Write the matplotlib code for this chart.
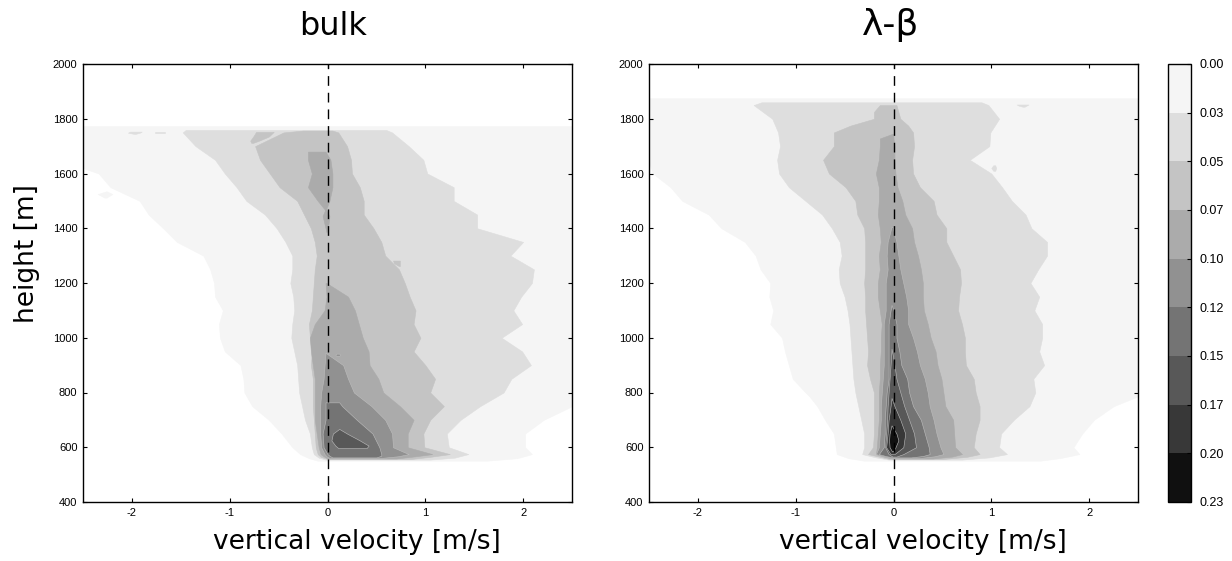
import matplotlib
matplotlib.use('Agg')
import matplotlib.pyplot as plt
from matplotlib.cm import ScalarMappable
from matplotlib.colors import BoundaryNorm, ListedColormap

plt.rcParams['axes.unicode_minus'] = False

levels = [0.0, 0.025, 0.05, 0.075, 0.1, 0.125, 0.15, 0.175, 0.2, 0.225]
level_labels = ['0.00', '0.03', '0.05', '0.07', '0.10', '0.12', '0.15', '0.17', '0.20', '0.23']
band_colors = ['#f5f5f5', '#dedede', '#c4c4c4', '#ababab', '#919191', '#747474', '#585858', '#383838', '#101010']
x_ticks = [-2, -1, 0, 1, 2]
y_ticks = [400, 600, 800, 1000, 1200, 1400, 1600, 1800, 2000]

# contour outlines: height [m], left and right velocity [m/s]
# one (height, left, right, band) entry per closed region

# bulk
b1_h = [1773, 1620, 1600, 1550, 1500, 1450, 1400, 1350, 1300, 1250, 1200, 1150, 1100, 1050, 1000, 950, 900, 850, 800, 750, 700, 650, 600, 575, 560, 551]
b1_l = [-2.5, -2.5, -2.34, -2.22, -1.92, -1.83, -1.68, -1.54, -1.27, -1.20, -1.16, -1.15, -1.07, -1.11, -1.10, -1.05, -0.89, -0.86, -0.85, -0.77, -0.60, -0.47, -0.36, -0.28, -0.19, -0.10]
b1_r = [2.5] * 20 + [2.21, 2.02, 2.02, 2.09, 1.94, 1.63]

b1a_h = [1535, 1525, 1512]
b1a_l = [-2.26, -2.35, -2.28]
b1a_r = [-2.26, -2.20, -2.26]

b2_h = [1759, 1750, 1700, 1650, 1600, 1550, 1500, 1450, 1400, 1350, 1300, 1250, 1200, 1150, 1100, 1050, 1000, 950, 900, 850, 800, 750, 700, 650, 600, 575, 562, 555]
b2_l = [-1.45, -1.48, -1.35, -1.15, -1.05, -0.93, -0.83, -0.64, -0.52, -0.43, -0.36, -0.36, -0.38, -0.35, -0.34, -0.36, -0.37, -0.34, -0.31, -0.30, -0.29, -0.26, -0.23, -0.18, -0.16, -0.14, -0.09, -0.02]
b2_r = [0.60, 0.66, 0.83, 0.98, 1.02, 1.29, 1.29, 1.53, 1.53, 2.00, 1.87, 2.11, 2.09, 1.98, 1.90, 1.99, 1.78, 1.99, 2.08, 1.88, 1.80, 1.56, 1.36, 1.22, 1.24, 1.44, 1.30, 1.05]

b2a_h = [1753, 1749, 1745]
b2a_l = [-2.02, -2.04, -1.98]
b2a_r = [-1.90, -1.92, -1.96]

b2b_h = [1752, 1748]
b2b_l = [-1.76, -1.76]
b2b_r = [-1.66, -1.66]

b3_h = [1757, 1750, 1700, 1650, 1600, 1550, 1500, 1450, 1400, 1350, 1300, 1250, 1200, 1150, 1100, 1050, 1000, 950, 900, 850, 800, 750, 700, 650, 600, 575, 565, 557]
b3_l = [-0.25, -0.45, -0.74, -0.69, -0.59, -0.49, -0.31, -0.24, -0.17, -0.13, -0.11, -0.13, -0.14, -0.15, -0.16, -0.19, -0.18, -0.16, -0.17, -0.15, -0.15, -0.15, -0.14, -0.13, -0.12, -0.10, -0.07, 0.0]
b3_r = [0.05, 0.11, 0.20, 0.24, 0.25, 0.33, 0.37, 0.37, 0.47, 0.55, 0.59, 0.73, 0.79, 0.84, 0.90, 0.88, 0.95, 0.88, 1.00, 1.10, 1.05, 1.19, 1.05, 0.98, 0.99, 1.25, 1.05, 0.85]

b3a_h = [1752, 1735, 1720, 1712]
b3a_l = [-0.73, -0.76, -0.79, -0.78]
b3a_r = [-0.55, -0.60, -0.70, -0.76]

b3b_h = [1282, 1272, 1262]
b3b_l = [0.67, 0.68, 0.73]
b3b_r = [0.74, 0.74, 0.74]

b4a_h = [1680, 1650, 1600, 1550, 1500, 1465]
b4a_l = [-0.20, -0.20, -0.16, -0.20, -0.10, -0.02]
b4a_r = [-0.02, 0.03, 0.05, 0.05, 0.02, -0.02]

b4b_h = [1470, 1445, 1415, 1385]
b4b_l = [-0.02, -0.05, -0.03, -0.01]
b4b_r = [-0.02, 0.02, 0.01, -0.01]

b4_h = [1200, 1150, 1100, 1050, 1000, 950, 900, 850, 800, 750, 700, 650, 600, 575, 567, 559]
b4_l = [-0.02, -0.01, -0.03, -0.13, -0.18, -0.17, -0.15, -0.13, -0.13, -0.13, -0.13, -0.11, -0.09, -0.07, -0.04, 0.0]
b4_r = [-0.01, 0.21, 0.28, 0.32, 0.36, 0.42, 0.43, 0.52, 0.57, 0.74, 0.88, 0.82, 0.82, 1.07, 0.90, 0.70]

b5_h = [945, 900, 850, 800, 750, 700, 650, 600, 575, 567, 561]
b5_l = [-0.02, -0.03, -0.04, -0.065, -0.075, -0.075, -0.075, -0.065, -0.03, -0.01, 0.02]
b5_r = [-0.02, 0.16, 0.21, 0.27, 0.45, 0.59, 0.66, 0.67, 0.83, 0.72, 0.55]

b5a_h = [942, 938, 934]
b5a_l = [0.09, 0.08, 0.09]
b5a_r = [0.12, 0.13, 0.12]

b6_h = [764, 750, 700, 650, 600, 575, 569, 563]
b6_l = [-0.02, -0.02, -0.02, -0.05, -0.04, 0.0, 0.02, 0.05]
b6_r = [0.12, 0.15, 0.30, 0.46, 0.53, 0.55, 0.55, 0.50]

b7_h = [667, 650, 625, 606, 597]
b7_l = [0.12, 0.055, 0.04, 0.08, 0.11]
b7_r = [0.12, 0.20, 0.33, 0.42, 0.40]

# lambda-beta
l1_h = [1875, 1640, 1600, 1550, 1500, 1450, 1400, 1350, 1300, 1250, 1200, 1150, 1100, 1050, 1000, 950, 900, 850, 800, 786, 750, 700, 650, 600, 575, 560, 551]
l1_l = [-2.5, -2.5, -2.46, -2.28, -2.16, -1.89, -1.76, -1.52, -1.41, -1.36, -1.26, -1.27, -1.23, -1.26, -1.14, -1.11, -1.07, -1.03, -0.90, -0.86, -0.78, -0.70, -0.61, -0.59, -0.58, -0.46, -0.30]
l1_r = [2.5] * 20 + [2.25, 2.05, 1.93, 1.84, 1.90, 1.70, 1.50]

l2_h = [1860, 1850, 1800, 1750, 1700, 1650, 1600, 1550, 1500, 1450, 1400, 1350, 1300, 1250, 1200, 1150, 1100, 1050, 1000, 950, 900, 850, 800, 750, 700, 650, 600, 575, 563, 555]
l2_l = [-1.35, -1.43, -1.24, -1.18, -1.16, -1.19, -1.17, -1.07, -0.90, -0.73, -0.63, -0.55, -0.53, -0.56, -0.55, -0.50, -0.47, -0.45, -0.44, -0.43, -0.42, -0.41, -0.39, -0.36, -0.33, -0.30, -0.30, -0.32, -0.18, -0.05]
l2_r = [0.90, 0.97, 1.08, 0.99, 0.98, 0.78, 1.00, 1.11, 1.21, 1.35, 1.41, 1.57, 1.57, 1.48, 1.40, 1.49, 1.44, 1.52, 1.52, 1.49, 1.54, 1.43, 1.45, 1.39, 1.23, 1.10, 1.08, 1.16, 0.98, 0.70]

l2a_h = [1852, 1848, 1844]
l2a_l = [1.26, 1.28, 1.32]
l2a_r = [1.38, 1.36, 1.34]

l2b_h = [1630, 1620, 1610]
l2b_l = [1.02, 1.00, 1.02]
l2b_r = [1.04, 1.05, 1.04]

l3_h = [1850, 1825, 1800, 1775, 1750, 1700, 1650, 1600, 1550, 1500, 1450, 1400, 1350, 1300, 1250, 1200, 1150, 1100, 1050, 1000, 950, 900, 850, 800, 750, 700, 650, 600, 575, 565, 557]
l3_l = [-0.14, -0.20, -0.20, -0.44, -0.61, -0.61, -0.72, -0.66, -0.49, -0.39, -0.37, -0.30, -0.29, -0.29, -0.29, -0.30, -0.29, -0.29, -0.28, -0.27, -0.26, -0.27, -0.24, -0.20, -0.20, -0.20, -0.20, -0.21, -0.26, -0.14, -0.04]
l3_r = [0.03, 0.05, 0.07, 0.15, 0.20, 0.21, 0.19, 0.20, 0.27, 0.41, 0.44, 0.54, 0.54, 0.61, 0.68, 0.69, 0.67, 0.66, 0.70, 0.73, 0.73, 0.74, 0.82, 0.84, 0.88, 0.88, 0.84, 0.82, 0.88, 0.75, 0.50]

l4_h = [1745, 1728, 1700, 1650, 1600, 1550, 1500, 1450, 1400, 1350, 1300, 1250, 1200, 1150, 1100, 1050, 1000, 950, 900, 850, 800, 750, 700, 650, 600, 575, 566, 559]
l4_l = [-0.01, -0.14, -0.14, -0.15, -0.18, -0.15, -0.15, -0.16, -0.14, -0.13, -0.15, -0.14, -0.16, -0.16, -0.14, -0.12, -0.13, -0.13, -0.14, -0.14, -0.15, -0.15, -0.15, -0.16, -0.17, -0.18, -0.10, -0.02]
l4_r = [0.0, 0.0, 0.01, 0.01, 0.02, 0.04, 0.09, 0.12, 0.19, 0.21, 0.25, 0.28, 0.30, 0.30, 0.31, 0.35, 0.38, 0.43, 0.45, 0.49, 0.51, 0.53, 0.61, 0.62, 0.63, 0.70, 0.60, 0.40]

l5_h = [1405, 1350, 1300, 1250, 1200, 1150, 1100, 1050, 1000, 950, 900, 850, 800, 750, 700, 650, 600, 575, 567, 561]
l5_l = [-0.02, -0.06, -0.07, -0.06, -0.08, -0.08, -0.08, -0.10, -0.10, -0.10, -0.10, -0.11, -0.12, -0.13, -0.13, -0.14, -0.15, -0.18, -0.09, -0.01]
l5_r = [-0.01, 0.03, 0.05, 0.07, 0.10, 0.13, 0.15, 0.15, 0.20, 0.24, 0.27, 0.32, 0.35, 0.37, 0.41, 0.44, 0.48, 0.51, 0.42, 0.28]

l6_h = [1120, 1100, 1050, 1000, 950, 900, 850, 800, 750, 700, 650, 600, 575, 568, 563]
l6_l = [-0.02, -0.03, -0.05, -0.05, -0.05, -0.05, -0.05, -0.07, -0.08, -0.09, -0.09, -0.10, -0.15, -0.08, -0.01]
l6_r = [-0.02, 0.0, 0.03, 0.03, 0.06, 0.08, 0.14, 0.16, 0.20, 0.28, 0.32, 0.36, 0.37, 0.30, 0.18]

l7_h = [960, 900, 850, 800, 750, 700, 650, 600, 575, 566]
l7_l = [-0.02, -0.03, -0.04, -0.05, -0.06, -0.065, -0.075, -0.085, -0.05, -0.01]
l7_r = [-0.02, 0.01, 0.03, 0.07, 0.11, 0.16, 0.21, 0.23, 0.10, 0.03]

l8_h = [780, 750, 700, 650, 600, 575]
l8_l = [-0.02, -0.03, -0.05, -0.06, -0.075, -0.03]
l8_r = [-0.02, 0.01, 0.07, 0.12, 0.10, 0.01]

l9_h = [680, 650, 625, 600, 585]
l9_l = [-0.02, -0.04, -0.045, -0.04, -0.015]
l9_r = [-0.02, 0.03, 0.05, 0.02, -0.005]

bulk_regions = [
    (b1_h, b1_l, b1_r, 0), (b1a_h, b1a_l, b1a_r, 0),
    (b2_h, b2_l, b2_r, 1), (b2a_h, b2a_l, b2a_r, 1), (b2b_h, b2b_l, b2b_r, 1),
    (b3_h, b3_l, b3_r, 2), (b3a_h, b3a_l, b3a_r, 2), (b3b_h, b3b_l, b3b_r, 2),
    (b4a_h, b4a_l, b4a_r, 3), (b4b_h, b4b_l, b4b_r, 3), (b4_h, b4_l, b4_r, 3),
    (b5_h, b5_l, b5_r, 4), (b5a_h, b5a_l, b5a_r, 4), (b6_h, b6_l, b6_r, 5), (b7_h, b7_l, b7_r, 6),
]
lambda_regions = [
    (l1_h, l1_l, l1_r, 0), (l2_h, l2_l, l2_r, 1), (l2a_h, l2a_l, l2a_r, 1), (l2b_h, l2b_l, l2b_r, 1),
    (l3_h, l3_l, l3_r, 2), (l4_h, l4_l, l4_r, 3), (l5_h, l5_l, l5_r, 4), (l6_h, l6_l, l6_r, 5),
    (l7_h, l7_l, l7_r, 6), (l8_h, l8_l, l8_r, 7), (l9_h, l9_l, l9_r, 8),
]

W, H = 1232, 561
fig = plt.figure(figsize=(W / 100, H / 100), dpi=100)


def px_axes(x0, x1, y0, y1):
    return fig.add_axes([x0 / W, 1 - y1 / H, (x1 - x0) / W, (y1 - y0) / H])


def draw_panel(ax, regions, title, title_x, title_size):
    for heights, left, right, band in regions:
        # the darker bands have a pale rim in the reference
        edge = '#bdbdbd' if band >= 4 else band_colors[band]
        ax.fill_betweenx(heights, left, right, facecolor=band_colors[band], edgecolor=edge, linewidth=0.4)
    ax.plot([0, 0], [y_ticks[0], y_ticks[-1]], color='black', lw=1.0, dashes=(7, 5))
    ax.set_xlim(-2.5, 2.5)
    ax.set_ylim(400, 2000)
    ax.set_xticks(x_ticks)
    ax.set_yticks(y_ticks)
    ax.tick_params(direction='in', top=True, right=True, length=3, width=0.8, labelsize=8, pad=4,
                   labelfontfamily='Liberation Sans')
    ax.set_xlabel('vertical velocity [m/s]', fontsize=19, x=0.56, labelpad=8.5)
    ax.set_title(title, fontsize=title_size, pad=21, x=title_x)
    for sp in ax.spines.values():
        sp.set_linewidth(1.0)


ax1 = px_axes(83, 572, 64, 502)
draw_panel(ax1, bulk_regions, 'bulk', 0.511, 23)
ax1.set_ylabel('height [m]', fontsize=19, y=0.568, labelpad=9)

ax2 = px_axes(649, 1138, 64, 502)
draw_panel(ax2, lambda_regions, 'λ-β', 0.495, 26)

cax = px_axes(1168, 1191, 64, 502)
norm = BoundaryNorm(levels, len(band_colors))
cb = fig.colorbar(ScalarMappable(norm=norm, cmap=ListedColormap(band_colors)), cax=cax,
                  ticks=levels, spacing='uniform')
cb.ax.invert_yaxis()
cb.ax.set_yticklabels(level_labels, family='Liberation Sans', fontsize=9)
cb.ax.tick_params(direction='in', length=3, width=0.8, pad=6)
cb.outline.set_linewidth(1.0)

fig.savefig('out.png', dpi=100)
